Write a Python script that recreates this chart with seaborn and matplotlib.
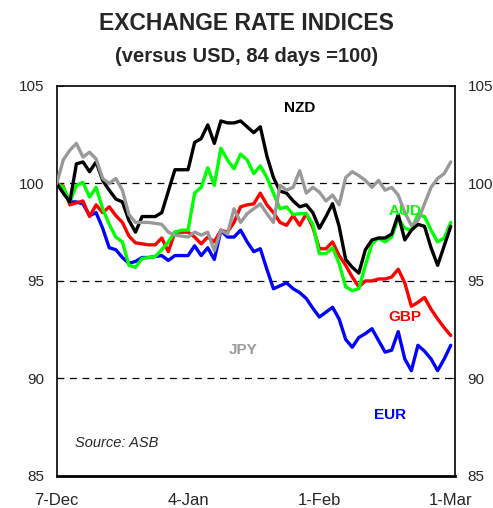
import pandas as pd
import matplotlib
matplotlib.use("Agg")
import matplotlib.pyplot as plt
import seaborn as sns

# =====================================
# Data (index, 7-Dec-09 = 100)
# =====================================

dates = pd.bdate_range("2009-12-07", "2010-03-01")

nzd = [100.0, 99.5, 99.05, 101.0, 101.1, 100.6, 101.1, 100.15, 99.65, 99.2,
       99.05, 98.1, 97.5, 98.3, 98.3, 98.3, 98.5, 99.6, 100.7, 100.7,
       100.7, 102.1, 102.3, 103.0, 102.05, 103.2, 103.1, 103.1, 103.2, 102.9,
       102.6, 102.9, 101.4, 100.3, 99.6, 99.5, 99.1, 98.8, 98.9, 98.5,
       97.7, 98.3, 98.96, 97.8, 96.1, 95.7, 95.4, 96.6, 97.1, 97.2,
       97.2, 97.4, 98.4, 97.1, 97.6, 97.9, 97.8, 96.7, 95.8, 96.8,
       97.8]

jpy = [100.0, 101.2, 101.7, 102.05, 101.35, 101.6, 101.25, 100.25, 100.0, 100.25,
       99.65, 98.4, 98.0, 98.0, 98.0, 97.95, 97.9, 97.5, 97.35, 97.3,
       97.25, 97.5, 97.35, 97.5, 96.55, 97.6, 97.4, 98.7, 98.0, 98.45,
       98.7, 98.95, 98.45, 98.0, 99.9, 99.65, 99.8, 100.65, 99.5, 99.8,
       99.55, 99.1, 99.4, 98.9, 100.3, 100.6, 100.4, 100.15, 99.8, 100.15,
       99.65, 99.8, 99.4, 98.5, 97.85, 98.1, 98.95, 99.8, 100.25, 100.5,
       101.1]

aud = [100.0, 99.8, 99.05, 99.9, 100.05, 99.3, 99.8, 98.7, 97.9, 97.25,
       97.0, 95.8, 95.7, 96.15, 96.2, 96.25, 96.6, 97.0, 97.5, 97.6,
       97.6, 99.5, 99.8, 100.8, 99.9, 101.8, 101.2, 100.75, 101.5, 101.2,
       100.5, 100.9, 100.3, 99.5, 98.7, 98.8, 98.4, 98.45, 98.45, 97.9,
       96.4, 96.4, 96.7, 95.9, 94.7, 94.5, 94.6, 95.8, 96.9, 97.2,
       97.0, 97.25, 98.2, 97.7, 97.6, 98.4, 98.3, 97.6, 97.0, 97.2,
       98.0]

gbp = [100.0, 99.85, 98.9, 99.0, 99.1, 98.3, 98.9, 98.5, 98.8, 98.35,
       98.0, 97.3, 96.95, 96.9, 96.85, 96.85, 97.2, 96.5, 97.5, 97.5,
       97.5, 97.25, 96.9, 97.25, 97.0, 97.6, 97.5, 98.0, 98.8, 98.9,
       98.95, 99.5, 98.9, 98.5, 98.0, 97.85, 98.35, 97.85, 98.45, 97.75,
       96.65, 96.65, 97.0, 96.3, 95.8, 95.2, 94.7, 95.0, 95.0, 95.1,
       95.1, 95.2, 95.6, 94.9, 93.7, 93.9, 94.15, 93.55, 93.05, 92.6,
       92.2]

eur = [100.0, 99.7, 99.05, 99.05, 98.95, 98.35, 98.5, 97.7, 96.7, 96.6,
       96.2, 95.9, 96.0, 96.2, 96.2, 96.25, 96.3, 96.05, 96.3, 96.3,
       96.3, 96.8, 96.3, 96.7, 96.1, 97.6, 97.25, 97.25, 97.6, 97.0,
       96.5, 96.65, 95.6, 94.6, 94.75, 94.9, 94.6, 94.4, 94.1, 93.6,
       93.15, 93.4, 93.65, 93.05, 92.0, 91.6, 92.1, 92.3, 92.55, 91.95,
       91.35, 91.45, 92.4, 91.0, 90.4, 91.7, 91.4, 91.0, 90.4, 91.0,
       91.7]

currencies = ["EUR", "GBP", "AUD", "NZD", "JPY"]
colors = {"EUR": "#0000ff", "GBP": "#ff0000", "AUD": "#00ff00",
          "NZD": "#000000", "JPY": "#999999"}

df = pd.DataFrame({"EUR": eur, "GBP": gbp, "AUD": aud, "NZD": nzd, "JPY": jpy})
df["day"] = range(len(dates))
long_df = df.melt(id_vars="day", var_name="currency", value_name="index")

# =====================================
# Setup
# =====================================

sns.set_style("white")
plt.rcParams["font.family"] = ["Liberation Sans", "DejaVu Sans"]

fig = plt.figure(figsize=(4.93, 5.08), dpi=100)
ax = fig.add_axes([0.115, 0.063, 0.808, 0.768])

# =====================================
# Chart
# =====================================

for y in [90, 95, 100]:
    ax.axhline(y, color="black", lw=0.9, ls=(0, (5.5, 4.5)), zorder=1)

sns.lineplot(
    data=long_df,
    x="day",
    y="index",
    hue="currency",
    hue_order=currencies,
    palette=colors,
    linewidth=2.4,
    legend=False,
    ax=ax,
    zorder=3
)

ax.set_xlim(0, 60.65)
ax.set_ylim(85, 105)

major = [0, 20, 40, 60]
ax.set_xticks(major)
ax.set_xticklabels([f"{dates[i].day}-{dates[i].strftime('%b')}" for i in major])
ax.set_xticks([10, 30, 50], minor=True)
ax.set_yticks([85, 90, 95, 100, 105])

ax.tick_params(axis="x", which="both", direction="in", length=4,
               labelsize=12, pad=12)
ax.tick_params(axis="y", direction="in", length=4, labelsize=11,
               left=True, right=True, labelleft=True, labelright=True, pad=9)
ax.set_xlabel("")
ax.set_ylabel("")

for side in ["left", "right", "top", "bottom"]:
    ax.spines[side].set_color("black")
    ax.spines[side].set_linewidth(1.2)
ax.spines["bottom"].set_linewidth(2)

# series labels
ax.text(37.05, 103.85, "NZD", color=colors["NZD"], fontsize=11,
        fontweight="bold", ha="center", va="center")
ax.text(53.0, 98.56, "AUD", color=colors["AUD"], fontsize=11,
        fontweight="bold", ha="center", va="center")
ax.text(53.0, 93.13, "GBP", color=colors["GBP"], fontsize=11,
        fontweight="bold", ha="center", va="center")
ax.text(28.4, 91.44, "JPY", color=colors["JPY"], fontsize=11,
        fontweight="bold", ha="center", va="center")
ax.text(50.75, 88.15, "EUR", color=colors["EUR"], fontsize=11,
        fontweight="bold", ha="center", va="center")
ax.text(2.8, 86.67, "Source: ASB", fontsize=10.5, style="italic",
        ha="left", va="center")

fig.text(0.5, 1 - 23 / 508, "EXCHANGE RATE INDICES", fontsize=16.5,
         fontweight="bold", ha="center", va="center")
fig.text(0.5, 1 - 56 / 508, "(versus USD, 84 days =100)", fontsize=14.5,
         fontweight="bold", ha="center", va="center")

fig.savefig("out.png", dpi=100)
